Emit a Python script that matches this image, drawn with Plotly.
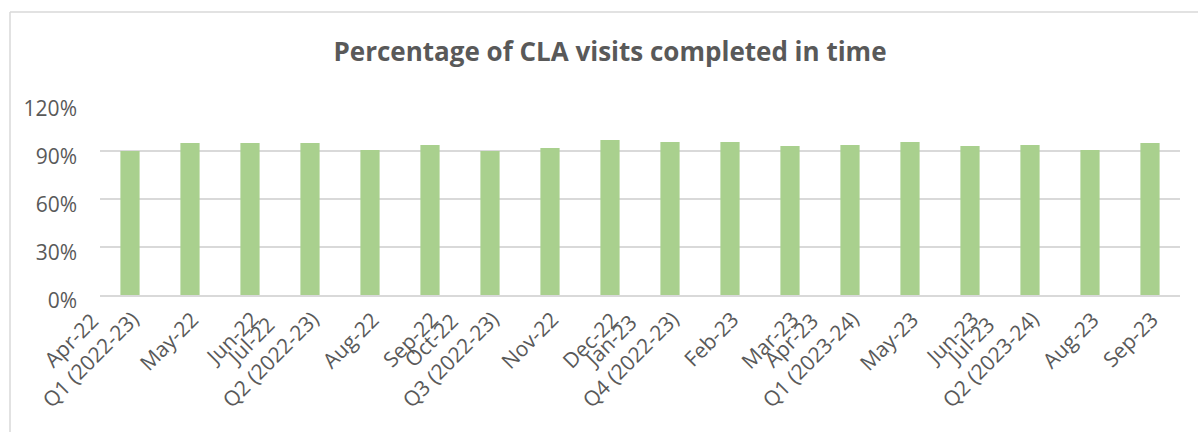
import plotly.graph_objects as go

months = ["Apr-22", "May-22", "Jun-22", "Jul-22", "Aug-22", "Sep-22",
          "Oct-22", "Nov-22", "Dec-22", "Jan-23", "Feb-23", "Mar-23",
          "Apr-23", "May-23", "Jun-23", "Jul-23", "Aug-23", "Sep-23"]
quarters = ["Q1 (2022-23)", "", "", "Q2 (2022-23)", "", "",
            "Q3 (2022-23)", "", "", "Q4 (2022-23)", "", "",
            "Q1 (2023-24)", "", "", "Q2 (2023-24)", "", ""]
pct_in_time = [0.90, 0.95, 0.95, 0.95, 0.906, 0.937,
               0.90, 0.919, 0.969, 0.956, 0.956, 0.931,
               0.937, 0.956, 0.931, 0.937, 0.906, 0.95]
y_ticks = [0, 0.3, 0.6, 0.9, 1.2]

W, H = 1198, 432
L, R, T, B = 100, 18, 103, 137
pw, ph = W - L - R, H - T - B

def px_x(x):
    return (x - L) / pw

def px_y(y):
    return (H - B - y) / ph

grey = "#595959"
font = "Open Sans"
xfont = 21

fig = go.Figure(go.Bar(
    x=list(range(len(months))),
    y=pct_in_time,
    marker=dict(color="#a9d08e", line=dict(width=0)),
))

# category labels: month, with the quarter as a second line, rotated like Excel
annotations = []
for i, (m, q) in enumerate(zip(months, quarters)):
    two = bool(q)
    annotations.append(dict(
        x=i, xref="x", y=0, yref="paper",
        text=m + "<br>" + q if two else m,
        showarrow=False, textangle=-45, align="center",
        xanchor="right", yanchor="top",
        xshift=17, yshift=12 if two else -8,
        font=dict(family=font, size=xfont, color=grey),
    ))

fig.update_layout(
    width=W, height=H,
    margin=dict(l=L, r=R, t=T, b=B),
    paper_bgcolor="white", plot_bgcolor="white",
    bargap=0.68,
    showlegend=False,
    title=dict(text="<b>Percentage of CLA visits completed in time</b>",
               x=610 / W, xanchor="center", y=1 - 52 / H, yanchor="middle",
               font=dict(family=font, size=26, color=grey)),
    font=dict(family=font, color=grey),
    annotations=annotations,
    shapes=[
        dict(type="line", xref="paper", yref="paper",
             x0=px_x(10), x1=px_x(W + 5), y0=px_y(12), y1=px_y(12),
             line=dict(color="#d9d9d9", width=1.5)),
        dict(type="line", xref="paper", yref="paper",
             x0=px_x(10), x1=px_x(10), y0=px_y(12), y1=px_y(H + 5),
             line=dict(color="#d9d9d9", width=1.5)),
    ],
)

fig.update_xaxes(
    range=[-0.5, len(months) - 0.5],
    showticklabels=False, automargin=False,
    showline=True, linecolor="#d9d9d9", linewidth=2,
    showgrid=False, ticks="", zeroline=False,
)
fig.update_yaxes(
    range=[0, 1.2], tickvals=y_ticks, tickformat=".0%",
    tickfont=dict(size=21, color=grey), automargin=False,
    showgrid=True, gridcolor="#d9d9d9", gridwidth=1.5,
    zeroline=False, showline=False, ticks="",
    ticklabelstandoff=22, ticklabelshift=6,
)

# drop the page's default body margin so the figure sits at the window's corner
fig.write_html("out.html", config={"displayModeBar": False},
               post_script="document.body.style.margin='0';")
